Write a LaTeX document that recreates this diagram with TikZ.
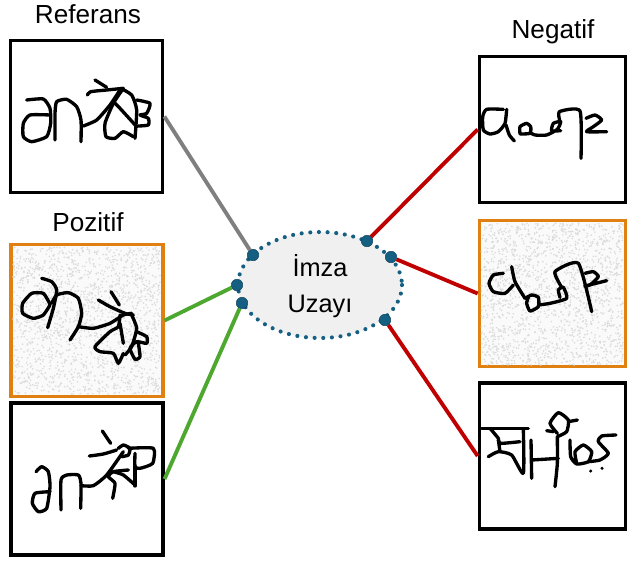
\documentclass[tikz,border=0pt]{standalone}
\usepackage{fontspec}
\setmainfont{Liberation Sans}
\usetikzlibrary{positioning,shapes.geometric}

\definecolor{boxorange}{HTML}{E08010}
\definecolor{dotblue}{HTML}{156082}
\definecolor{linkred}{HTML}{C00000}
\definecolor{linkgreen}{HTML}{4EA72E}
\definecolor{linkgray}{HTML}{7F7F7F}

\tikzset{
  sigbox/.style={draw=black,line width=2.3pt,rectangle,inner sep=0pt},
  noisybox/.style={sigbox,draw=boxorange,fill=black!2},
  grouplabel/.style={font=\fontsize{19.6}{21}\selectfont,inner sep=0pt},
  link/.style={line width=2.9pt},
  anchordot/.style={circle,fill=dotblue,draw=dotblue!70!black,line width=0.4pt,minimum size=8.6pt,inner sep=0pt},
  sig/.style={line width=2.5pt,line cap=round,line join=round,black},
  graindot/.style={black!14},
}

% one signature line, in the 3x pixels of its box
\newcommand{\sigline}[1]{\draw[sig] plot[smooth,tension=0.35] coordinates {#1};}
\newcommand{\grain}[3]{\foreach \i in {1,...,1700} \fill[graindot] (#1+rnd*#3,#2+rnd*#3) circle (0.9);}

\begin{document}
\begin{tikzpicture}[x=0.75pt,y=-0.75pt]
\useasboundingbox (0,0) rectangle (634,561);
\pgfmathsetseed{17}

% space in the middle
\node[ellipse,fill=black!6,minimum width=123pt,minimum height=79.5pt,inner sep=0pt] (space) at (320,285) {};
\draw[dotblue,line width=3.1pt,line cap=round,dash pattern=on 0pt off 6.5pt] (space.center) ++(82,0) arc[start angle=0,end angle=360,x radius=82,y radius=53];
\node[align=center,font=\fontsize{19}{27}\selectfont,inner sep=0pt] (spacetext) at (320,286) {İmza\\Uzayı};

% boxes
\node[sigbox,minimum width=114.5pt,minimum height=114pt] (refbox) at (86.5,116.5) {};
\node[noisybox,minimum width=114pt,minimum height=114.5pt] (posnoisy) at (87,320.5) {};
\node[sigbox,minimum width=114pt,minimum height=114pt] (posbox) at (87,479) {};
\node[sigbox,minimum width=110pt,minimum height=109pt] (negbox) at (552.5,129.5) {};
\node[noisybox,minimum width=110pt,minimum height=109pt] (negnoisy) at (552.5,293.5) {};
\node[sigbox,minimum width=110pt,minimum height=109.5pt] (negother) at (552.5,456) {};

\grain{13}{247}{147}
\grain{481}{223}{142}

\node[grouplabel] (reflabel) at (88,14) {Referans};
\node[grouplabel] (poslabel) at (88,222) {Pozitif};
\node[grouplabel] (neglabel) at (553,32) {Negatif};

% anchors on the dotted line
\node[anchordot] (a1) at (253,255) {};
\node[anchordot] (a2) at (237,285) {};
\node[anchordot] (a3) at (242,303) {};
\node[anchordot] (a4) at (367,241) {};
\node[anchordot] (a5) at (391,257) {};
\node[anchordot] (a6) at (385,320) {};

\draw[link,linkgray] (refbox.east) -- (a1);
\draw[link,linkgreen] (posnoisy.east) -- (a2);
\draw[link,linkgreen] (posbox.east) -- (a3);
\draw[link,linkred] (negbox.west) -- (a4);
\draw[link,linkred] (negnoisy.west) -- (a5);
\draw[link,linkred] (negother.west) -- (a6);

% signatures
\begin{scope}[x=0.25pt,y=-0.25pt]
\sigline{(80,300)(130,297)(150,325)(152,370)(140,410)(95,425)(70,410)(70,370)(90,345)(150,345)}
\sigline{(165,420)(165,340)(170,305)(200,298)(230,320)(243,360)(243,425)}
\sigline{(250,378)(290,360)(330,315)(360,270)}
\sigline{(262,285)(272,275)(320,270)(370,265)}
\sigline{(285,240)(320,262)}
\sigline{(362,265)(395,285)(410,330)(405,415)}
\sigline{(370,265)(340,310)(315,370)(318,410)(345,415)(370,395)(400,410)}
\sigline{(345,310)(360,325)(410,380)}
\sigline{(410,300)(450,310)(440,340)(420,345)(445,355)(445,375)(415,378)}
\end{scope}

\begin{scope}[yshift=-150pt,x=0.25pt,y=-0.25pt]
\sigline{(125,235)(155,245)(170,270)(160,325)(143,383)}
\sigline{(150,312)(130,280)(95,280)(68,310)(68,340)(100,355)(130,345)(150,315)}
\sigline{(210,420)(235,380)(245,340)(235,295)(205,278)(170,285)(155,310)}
\sigline{(235,380)(280,385)(330,370)(370,345)(395,340)}
\sigline{(295,300)(330,320)(375,340)(400,345)}
\sigline{(333,275)(358,315)}
\sigline{(395,345)(410,385)(395,440)(375,465)}
\sigline{(360,345)(355,380)(330,395)(285,440)(300,455)(340,460)(355,490)(370,460)}
\sigline{(360,370)(370,430)}
\sigline{(410,395)(440,410)(440,430)(410,425)(390,445)(405,478)(420,470)(415,430)}
\end{scope}

\begin{scope}[yshift=-150pt,x=0.25pt,y=-0.25pt]
\sigline{(108,815)(125,800)(145,815)(150,860)(140,925)(115,935)(97,910)(105,880)(150,875)}
\sigline{(183,930)(183,840)(200,825)(235,825)(243,850)(242,925)}
\sigline{(243,857)(280,857)(320,825)(370,755)}
\sigline{(268,768)(310,762)(350,750)}
\sigline{(307,693)(332,730)}
\sigline{(355,745)(370,735)(390,745)(385,765)(365,770)}
\sigline{(385,745)(460,745)(458,790)(420,805)(405,800)(405,760)}
\sigline{(405,800)(405,858)}
\sigline{(385,810)(340,815)(325,830)(345,850)(338,895)}
\sigline{(340,815)(370,825)(405,855)}
\end{scope}

\begin{scope}[xshift=352.5pt,yshift=-7.5pt,x=0.25pt,y=-0.25pt]
\sigline{(100,298)(50,298)(38,320)(40,360)(60,372)(85,365)(105,340)(110,298)}
\sigline{(108,345)(118,375)(133,393)}
\sigline{(150,372)(150,350)(170,340)(182,350)(180,370)(150,372)}
\sigline{(180,368)(195,375)(230,375)(262,358)(272,335)(250,340)(245,362)(272,362)}
\sigline{(270,335)(268,305)(330,303)(333,445)}
\sigline{(348,325)(375,315)(395,330)(370,350)(350,365)(410,365)}
\end{scope}

\begin{scope}[xshift=352.5pt,yshift=-157.5pt,x=0.25pt,y=-0.25pt]
\sigline{(100,190)(70,195)(57,220)(70,245)(105,250)(130,225)}
\sigline{(125,170)(135,215)(165,265)}
\sigline{(165,265)(185,255)(205,262)(205,290)(180,303)(170,280)(175,262)}
\sigline{(205,285)(240,280)(290,265)(280,232)(265,240)(270,262)}
\sigline{(275,232)(255,185)(325,160)(365,305)}
\sigline{(345,190)(370,185)(385,200)(360,225)(345,228)(410,212)}
\end{scope}

\begin{scope}[xshift=352.5pt,yshift=-157.5pt,x=0.25pt,y=-0.25pt]
\sigline{(35,655)(175,655)}
\sigline{(60,655)(85,685)(90,700)(150,695)}
\sigline{(55,740)(85,725)(125,735)(160,790)(160,660)}
\sigline{(85,690)(90,725)}
\sigline{(183,690)(185,805)}
\sigline{(185,750)(265,745)}
\sigline{(262,680)(262,760)(255,830)}
\sigline{(262,670)(240,640)(265,608)(295,630)(290,665)(262,680)}
\sigline{(230,662)(250,665)}
\sigline{(295,635)(322,630)}
\sigline{(300,690)(302,740)(320,762)(355,755)(365,725)(340,705)(315,725)(320,760)}
\sigline{(355,755)(390,750)(415,730)(385,695)(395,678)(438,675)}
\fill (362,783) circle (5);
\fill (396,775) circle (5);
\end{scope}
\end{tikzpicture}
\end{document}
